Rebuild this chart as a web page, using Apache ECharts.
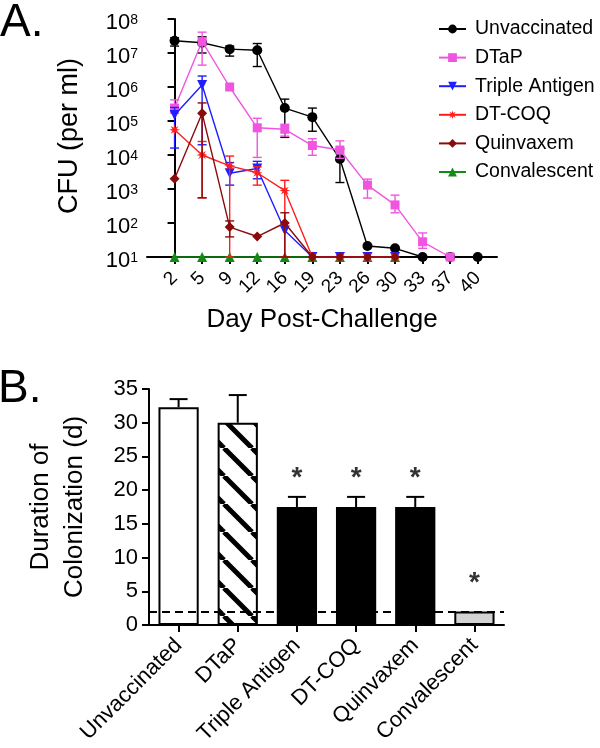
<!DOCTYPE html>
<html><head><meta charset="utf-8">
<script src="https://cdn.jsdelivr.net/npm/echarts@6/dist/echarts.min.js"></script>
<style>html,body{margin:0;padding:0;background:#fff}#c{width:600px;height:748px}</style>
</head><body><div id="c"></div>
<script>
// ---------- Panel A data ----------
const days = [2, 5, 9, 12, 16, 19, 23, 26, 30, 33, 37, 40];
const yTicksA = [10, 100, 1e3, 1e4, 1e5, 1e6, 1e7, 1e8];

const unvacc     = [2.3e7, 2.0e7, 1.3e7, 1.2e7, 2.4e5, 1.3e5, 7.6e3, 21, 18, 10, 10, 10];
const unvaccLow  = [1.6e7, 1.0e7, 8.1e6, 4.0e6, 3.3e4, 5.0e4, 1.55e3, null, null, null, null, null];
const unvaccHigh = [2.8e7, 3.0e7, 1.6e7, 1.9e7, 4.4e5, 2.4e5, 1.5e4, null, null, null, null, null];

const dtap     = [2.4e5, 2.2e7, 1.0e6, 6.3e4, 5.7e4, 1.9e4, 1.4e4, 1.3e3, 340, 28, 10, null];
const dtapLow  = [1.7e5, 4.4e6, null, 8.5e3, 3.6e4, 9.8e3, 8.0e3, 540, 200, 18, null, null];
const dtapHigh = [4.2e5, 4.1e7, null, 1.2e5, 8.0e4, 3.0e4, 2.6e4, 1.95e3, 660, 51, null, null];

const triple     = [1.5e5, 1.15e6, 2.9e3, 4.0e3, 60, 10, 10, 10, 10, null, null, null];
const tripleLow  = [1.6e4, 2.0e4, 1.3e3, 2.0e3, null, null, null, null, null, null, null, null];
const tripleHigh = [2.5e5, 2.1e6, 6.0e3, 6.5e3, null, null, null, null, null, null, null, null];

const dtcoq     = [5.5e4, 1.0e4, 4.8e3, 3.0e3, 900, 10, 10, 10, 10, null, null, null];
const dtcoqLow  = [null, 550, 10, 1.3e3, 10, null, null, null, null, null, null, null];
const dtcoqHigh = [null, 2.5e4, 9.3e3, 4.5e3, 1.8e3, null, null, null, null, null, null, null];

const quinv     = [2.0e3, 1.7e5, 76, 40, 100, 10, 10, 10, 10, null, null, null];
const quinvLow  = [null, 550, 39, null, 10, null, null, null, null, null, null, null];
const quinvHigh = [null, 3.4e5, 115, null, 200, null, null, null, null, null, null, null];

const conv = [10, 10, 10, 10, 10, 10, 10, 10, 10, null, null, null];

// ---------- Panel B data ----------
const groups = ['Unvaccinated', 'DTaP', 'Triple Antigen', 'DT-COQ', 'Quinvaxem', 'Convalescent'];
const duration = [32.3, 30.0, 17.5, 17.5, 17.5, 2.0];
const durationErr = [33.5, 34.1, 19.0, 19.0, 19.0, null];
const sigMarkY = [null, null, 21.7, 21.7, 21.7, 6.2];
const detectionLimit = 2;
const yTicksB = [0, 5, 10, 15, 20, 25, 30, 35];

// ---------- styles ----------
const FONT = '"Liberation Sans", Arial, Helvetica, sans-serif';
const cBlack = '#000000', cPink = '#F055E0', cBlue = '#1E1EFF', cRed = '#FF1E1E', cMaroon = '#8B0A0A', cGreen = '#138A13';

function asteriskPath() {
  const pts = [];
  for (let k = 0; k < 16; k++) {
    const r = (k % 2 === 0) ? 1 : 0.42;
    const a = Math.PI / 2 + k * Math.PI / 8;
    pts.push((50 + 50 * r * Math.cos(a)).toFixed(2) + ',' + (50 - 50 * r * Math.sin(a)).toFixed(2));
  }
  return 'path://M' + pts.join('L') + 'Z';
}

function toXY(arr) { return arr.map((v, i) => v == null ? null : [i, v]); }
function toErr(lo, hi) {
  const out = [];
  lo.forEach((v, i) => { if (v != null && hi[i] != null) out.push([i, v, hi[i]]); });
  return out;
}
function errRender(capW, color, lw, lowerCap) {
  return function (params, api) {
    const x = api.value(0), lo = api.value(1), hi = api.value(2);
    const p1 = api.coord([x, lo]), p2 = api.coord([x, hi]);
    const st = { stroke: color, lineWidth: lw };
    const ch = [
      { type: 'line', shape: { x1: p1[0], y1: p1[1], x2: p2[0], y2: p2[1] }, style: st },
      { type: 'line', shape: { x1: p2[0] - capW / 2, y1: p2[1], x2: p2[0] + capW / 2, y2: p2[1] }, style: st }
    ];
    if (lowerCap) ch.push({ type: 'line', shape: { x1: p1[0] - capW / 2, y1: p1[1], x2: p1[0] + capW / 2, y2: p1[1] }, style: st });
    return { type: 'group', children: ch };
  };
}

// hatch pattern
const P = 28;
const hc = document.createElement('canvas');
hc.width = P; hc.height = P;
const hx = hc.getContext('2d');
hx.fillStyle = '#fff'; hx.fillRect(0, 0, P, P);
hx.strokeStyle = '#000'; hx.lineWidth = 5;
for (let k = -1; k <= 1; k++) { hx.beginPath(); hx.moveTo(k * P, 0); hx.lineTo(k * P + P, P); hx.stroke(); }

const barColors = ['#ffffff', { image: hc, repeat: 'repeat' }, '#000000', '#000000', '#000000', '#D3D3D3'];

const seriesA = [
  { name: 'Unvaccinated', data: unvacc, lo: unvaccLow, hi: unvaccHigh, color: cBlack, symbol: 'circle', size: 10 },
  { name: 'DTaP', data: dtap, lo: dtapLow, hi: dtapHigh, color: cPink, symbol: 'rect', size: 9 },
  { name: 'Triple Antigen', data: triple, lo: tripleLow, hi: tripleHigh, color: cBlue, symbol: 'path://M0,0L100,0L50,90Z', size: 10 },
  { name: 'DT-COQ', data: dtcoq, lo: dtcoqLow, hi: dtcoqHigh, color: cRed, symbol: asteriskPath(), size: 11 },
  { name: 'Quinvaxem', data: quinv, lo: quinvLow, hi: quinvHigh, color: cMaroon, symbol: 'diamond', size: 10 },
  { name: 'Convalescent', data: conv, lo: conv.map(() => null), hi: conv.map(() => null), color: cGreen, symbol: 'triangle', size: 10 }
];

const series = [];
seriesA.forEach((s, k) => {
  const z = s.name === 'Convalescent' ? 1 : 2 + k;
  series.push({
    type: 'custom', xAxisIndex: 0, yAxisIndex: 0, silent: true, z: z,
    renderItem: errRender(9, s.color, 1.4, true), data: toErr(s.lo, s.hi), clip: false
  });
  series.push({
    type: 'line', name: s.name, xAxisIndex: 0, yAxisIndex: 0, z: z,
    data: toXY(s.data), symbol: s.symbol, symbolSize: s.size, showAllSymbol: true,
    lineStyle: { color: s.color, width: 1.4 }, itemStyle: { color: s.color },
    clip: false, animation: false
  });
});

// Panel B
series.push({
  type: 'line', xAxisIndex: 1, yAxisIndex: 1, data: [], z: 1, silent: true,
  markLine: { silent: true, symbol: 'none', label: { show: false },
    lineStyle: { color: '#000', type: [8, 5], width: 2 },
    data: [{ yAxis: detectionLimit }] }
});
series.push({
  type: 'bar', xAxisIndex: 1, yAxisIndex: 1, z: 3, barCategoryGap: '32%',
  data: duration.map((v, i) => ({ value: v, itemStyle: { color: barColors[i], borderColor: '#000', borderWidth: 2 } })),
  animation: false
});
series.push({
  type: 'custom', xAxisIndex: 1, yAxisIndex: 1, z: 4, silent: true,
  renderItem: errRender(18, '#000', 2, false),
  data: duration.map((v, i) => durationErr[i] == null ? null : [i, v, durationErr[i]]).filter(d => d)
});
series.push({
  type: 'scatter', xAxisIndex: 1, yAxisIndex: 1, z: 5, symbolSize: 0, silent: true,
  data: sigMarkY.map((v, i) => v == null ? null : [i, v]).filter(d => d),
  label: { show: true, position: 'inside', formatter: '*', fontSize: 28, fontWeight: 'bold', color: '#000', fontFamily: FONT }
});

const axisLine = { show: true, lineStyle: { color: '#000', width: 2 } };
const axisTick = { show: true, length: 7, lineStyle: { color: '#000', width: 2 } };

const chart = echarts.init(document.getElementById('c'));
chart.setOption({
  animation: false,
  backgroundColor: '#fff',
  textStyle: { fontFamily: FONT, color: '#000' },
  grid: [
    { left: 147, top: 19, width: 350, height: 238 },
    { left: 149, top: 389, width: 355, height: 236 }
  ],
  xAxis: [
    { type: 'value', gridIndex: 0, min: -1, max: 11.7, splitLine: { show: false },
      axisLine: axisLine, axisTick: Object.assign({}, axisTick, { customValues: days.map((d, i) => i) }),
      axisLabel: { customValues: days.map((d, i) => i), formatter: v => String(days[Math.round(v)]), rotate: 45, margin: 18,
        fontSize: 19, color: '#000', fontFamily: FONT, showMinLabel: true, showMaxLabel: true, hideOverlap: false } },
    { type: 'category', gridIndex: 1, data: groups,
      axisLine: axisLine, axisTick: Object.assign({}, axisTick, { alignWithLabel: true }),
      axisLabel: { rotate: 45, margin: 17, fontSize: 22, color: '#000', fontFamily: FONT, interval: 0 } }
  ],
  yAxis: [
    { type: 'log', gridIndex: 0, logBase: 10, min: yTicksA[0], max: yTicksA[yTicksA.length - 1], splitLine: { show: false },
      axisLine: axisLine, axisTick: axisTick,
      axisLabel: { margin: 9, color: '#000',
        formatter: v => '{b|10}{s|' + Math.round(Math.log10(v)) + '}',
        rich: { b: { fontSize: 22, lineHeight: 22, padding: [8, 0, 0, 0], fontFamily: FONT, color: '#000' },
                s: { fontSize: 14, lineHeight: 14, verticalAlign: 'top', padding: [5, 0, 0, 0], fontFamily: FONT, color: '#000' } } } },
    { type: 'value', gridIndex: 1, min: yTicksB[0], max: yTicksB[yTicksB.length - 1], interval: 5, splitLine: { show: false },
      axisLine: axisLine, axisTick: axisTick,
      axisLabel: { margin: 11, fontSize: 22, color: '#000', fontFamily: FONT } }
  ],
  legend: {
    orient: 'vertical', left: 433, top: 14, itemWidth: 27, itemHeight: 11, itemGap: 8.6,
    data: seriesA.map(s => s.name),
    textStyle: { fontSize: 19.5, lineHeight: 20, color: '#000', fontFamily: FONT, padding: [0, 0, 0, 4] },
    selectedMode: false
  },
  graphic: [
    { type: 'text', left: 0, top: 0, style: { text: 'A.', fontSize: 46, fontFamily: FONT, fill: '#000' } },
    { type: 'text', x: -2, y: 366, style: { text: 'B.', fontSize: 46, fontFamily: FONT, fill: '#000' } },
    { type: 'text', x: 70, y: 136, rotation: Math.PI / 2,
      style: { text: 'CFU (per ml)', fontSize: 27, fontFamily: FONT, fill: '#000', align: 'center', verticalAlign: 'middle' } },
    { type: 'text', x: 322, y: 320,
      style: { text: 'Day Post-Challenge', fontSize: 26, fontFamily: FONT, fill: '#000', align: 'center', verticalAlign: 'middle' } },
    { type: 'text', x: 41, y: 507, rotation: Math.PI / 2,
      style: { text: 'Duration of', fontSize: 26, fontFamily: FONT, fill: '#000', align: 'center', verticalAlign: 'middle' } },
    { type: 'text', x: 75, y: 507, rotation: Math.PI / 2,
      style: { text: 'Colonization (d)', fontSize: 26, fontFamily: FONT, fill: '#000', align: 'center', verticalAlign: 'middle' } }
  ],
  series: series
});
</script></body></html>
